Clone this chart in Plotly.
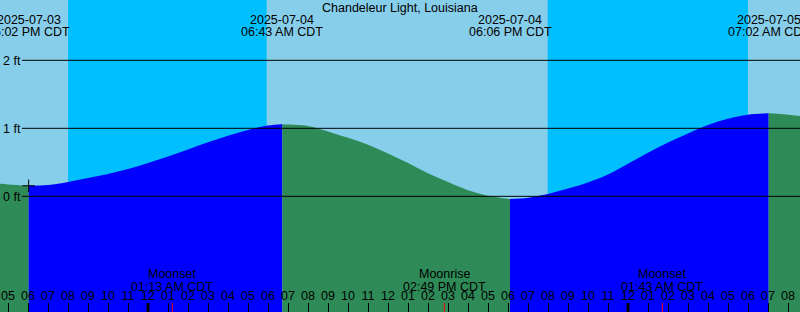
import plotly.graph_objects as go
from datetime import datetime, timedelta

# ---------------- data ----------------
title_text = "Chandeleur Light, Louisiana"
tz_label = "CDT"

# hourly predicted tide heights (ft), starting 2025-07-03 16:00 CDT
hourly_start = "2025-07-03 16:00"
hourly_heights = [0.20, 0.175, 0.152, 0.165, 0.21, 0.27, 0.33, 0.40,
                  0.49, 0.585, 0.69, 0.795, 0.89, 0.975, 1.04, 1.055,
                  1.035, 0.955, 0.86, 0.76, 0.63, 0.49, 0.34, 0.21,
                  0.09, 0.01, -0.038, -0.02, 0.035, 0.115, 0.205, 0.32,
                  0.48, 0.64, 0.79, 0.925, 1.05, 1.14, 1.20, 1.219,
                  1.20, 1.165]

# high / low tide extremes
extreme_times = ["2025-07-03 18:02", "2025-07-04 06:43",
                 "2025-07-04 18:06", "2025-07-05 07:02"]
extreme_heights = [0.155, 1.06, -0.04, 1.22]
extreme_types = ["L", "H", "L", "H"]

# night periods (sunset -> sunrise)
sunset_times = ["2025-07-03 20:00", "2025-07-04 19:59"]
sunrise_times = ["2025-07-04 05:56", "2025-07-05 06:00"]

# moon events
moon_times = ["2025-07-04 01:13", "2025-07-04 14:49", "2025-07-05 01:43"]
moon_events = ["Moonset", "Moonrise", "Moonset"]

# midnights (drawn as heavy ticks)
midnight_times = ["2025-07-04 00:00", "2025-07-05 00:00"]

# y-axis labels
y_tick_values = [0, 1, 2]
y_tick_text = ["0 ft", "1 ft", "2 ft"]

# marker shown on the chart
marker_time = "2025-07-03 18:02"
marker_height = 0.155

# visible window
x_start = "2025-07-03 16:36"
x_end = "2025-07-05 08:36"
y_min, y_max = -1.701, 2.887

# ---------------- build ----------------
fmt = "%Y-%m-%d %H:%M"
P = lambda s: datetime.strptime(s, fmt)

t0 = P(hourly_start)
hourly_t = [t0 + timedelta(hours=i) for i in range(len(hourly_heights))]
ext_t = [P(s) for s in extreme_times]

pts = []
for t, h in zip(hourly_t, hourly_heights):
    if all(abs((t - e).total_seconds()) > 0.25 * 3600 for e in ext_t):
        pts.append((t, h))
pts += list(zip(ext_t, extreme_heights))
pts.sort()

BLUE = "#0000FF"
GREEN = "#2E8B57"
SKY = "#87CEEB"
DEEP = "#00BFFF"

bounds = [pts[0][0]] + ext_t + [pts[-1][0]]
seg_colors = []
for i in range(len(bounds) - 1):
    if i < len(extreme_types):
        seg_colors.append(BLUE if extreme_types[i] == "H" else GREEN)
    else:
        seg_colors.append(BLUE if extreme_types[-1] == "L" else GREEN)

fig = go.Figure()
base = y_min - 1.0
for i in range(len(bounds) - 1):
    a, b = bounds[i], bounds[i + 1]
    seg = [(t, h) for t, h in pts if a <= t <= b]
    xs = [p[0] for p in seg]
    ys = [p[1] for p in seg]
    fig.add_trace(go.Scatter(x=xs, y=[base] * len(xs), mode="lines",
                             line=dict(width=0), hoverinfo="skip",
                             showlegend=False))
    fig.add_trace(go.Scatter(x=xs, y=ys, mode="lines", fill="tonexty",
                             fillcolor=seg_colors[i],
                             line=dict(width=0, shape="spline",
                                       color=seg_colors[i]),
                             hoverinfo="skip", showlegend=False))

fig.add_trace(go.Scatter(x=[P(marker_time)], y=[marker_height],
                         mode="markers",
                         marker=dict(symbol="cross-thin", size=9,
                                     line=dict(width=1, color="black")),
                         hoverinfo="skip", showlegend=False))

W, H = 800, 312
shapes = []
for s, r in zip(sunset_times, sunrise_times):
    shapes.append(dict(type="rect", xref="x", yref="paper", x0=P(s), x1=P(r),
                       y0=0, y1=1, fillcolor=DEEP, line=dict(width=0),
                       layer="below"))
for v in y_tick_values:
    shapes.append(dict(type="line", xref="paper", yref="y", x0=22 / W, x1=1,
                       y0=v, y1=v, line=dict(color="black", width=1)))
for m in midnight_times:
    shapes.append(dict(type="line", xref="x", yref="paper", x0=P(m), x1=P(m),
                       y0=0, y1=9 / H, line=dict(color="black", width=3)))
for m in moon_times:
    shapes.append(dict(type="line", xref="x", yref="paper", x0=P(m), x1=P(m),
                       y0=0, y1=9 / H, line=dict(color="red", width=1)))

FONT = dict(family="Liberation Sans, Arial, sans-serif", size=12.5,
            color="black")
ann = []
ann.append(dict(text=title_text, xref="paper", yref="paper", x=0.5,
                y=1 - 7.5 / H, showarrow=False, font=FONT,
                xanchor="center", yanchor="middle"))
for t in ext_t:
    ann.append(dict(text=t.strftime("%Y-%m-%d"), xref="x", yref="paper",
                    x=t, y=1 - 19.5 / H, showarrow=False, font=FONT,
                    xanchor="center", yanchor="middle"))
    ann.append(dict(text=t.strftime("%I:%M %p ") + tz_label, xref="x",
                    yref="paper", x=t, y=1 - 32 / H, showarrow=False,
                    font=FONT, xanchor="center", yanchor="middle"))
for s, name in zip(moon_times, moon_events):
    t = P(s)
    ann.append(dict(text=name, xref="x", yref="paper", x=t,
                    y=1 - 273.5 / H, showarrow=False, font=FONT,
                    xanchor="center", yanchor="middle"))
    ann.append(dict(text=t.strftime("%I:%M %p ") + tz_label, xref="x",
                    yref="paper", x=t, y=1 - 286.5 / H, showarrow=False,
                    font=FONT, xanchor="center", yanchor="middle"))

fig.update_layout(
    width=W, height=H, autosize=False,
    margin=dict(l=0, r=0, t=0, b=0, pad=0),
    paper_bgcolor=SKY, plot_bgcolor=SKY,
    showlegend=False, shapes=shapes, annotations=ann, font=FONT,
    xaxis=dict(range=[P(x_start), P(x_end)], type="date",
               tick0="2025-07-04 00:00", dtick=3600000, tickformat="%I",
               ticks="inside", ticklen=9, tickwidth=1, tickcolor="black",
               ticklabelposition="inside", ticklabeloverflow="allow",
               showgrid=False, zeroline=False, showline=False,
               tickfont=FONT, fixedrange=True),
    yaxis=dict(range=[y_min, y_max], tickvals=y_tick_values,
               ticktext=y_tick_text, ticks="", ticklabelposition="inside",
               ticklabeloverflow="allow", showgrid=False, zeroline=False,
               showline=False, tickfont=FONT, fixedrange=True),
)

fig.write_html("out.html", config={"displayModeBar": False})
